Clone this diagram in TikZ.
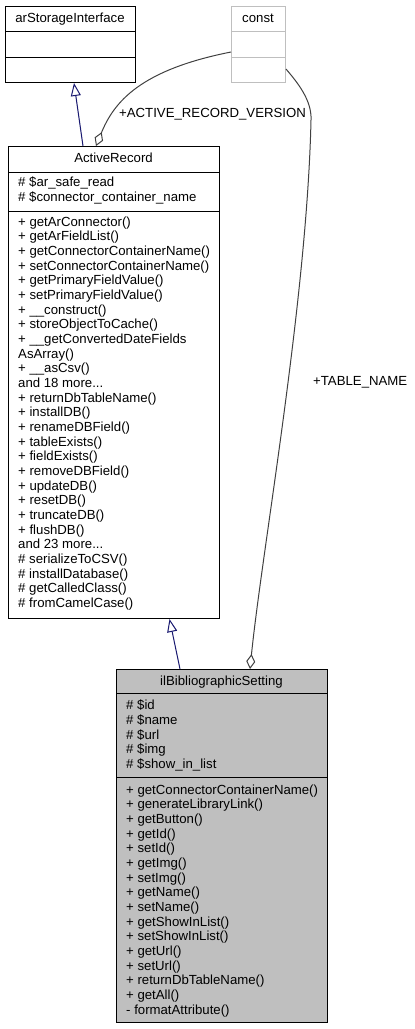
\documentclass[tikz,border=0pt]{standalone}
\usepackage{fontspec}
\setmainfont{Liberation Sans}
\usetikzlibrary{arrows.meta,calc}
\definecolor{edgegray}{HTML}{404040}
\definecolor{navyedge}{HTML}{191970}
\definecolor{constgray}{HTML}{BFBFBF}
\definecolor{fillgray}{HTML}{BFBFBF}
\newcommand\mydots{...}
\begin{document}
\begin{tikzpicture}[x=1pt,y=-1pt,
  font=\fontsize{13.2}{14.67}\selectfont,
  classbox/.style={draw=black, line width=1pt, inner sep=0pt, anchor=north west},
  constbox/.style={draw=constgray, line width=1pt, inner sep=0pt, anchor=north west},
  divider/.style={draw=black, line width=1pt},
  constdivider/.style={draw=constgray, line width=1pt},
  txt/.style={inner sep=0pt, anchor=base west},
  ttl/.style={inner sep=0pt, anchor=base},
  lbl/.style={inner sep=0pt, anchor=base west},
  inherit/.style={draw=navyedge, line width=1pt, -{Triangle[open,length=13pt,width=10pt]}},
  comp/.style={draw=edgegray, line width=1pt, {Diamond[open,length=15pt,width=9pt]}-}
]
\useasboundingbox (0,0) rectangle (415,1029);

% arStorageInterface
\node[classbox, minimum width=130pt, minimum height=76pt] (asi) at (5,6) {};
\draw[divider] ($(asi.north west)+(0,25)$) -- ($(asi.north east)+(0,25)$);
\draw[divider] ($(asi.north west)+(0,51)$) -- ($(asi.north east)+(0,51)$);
\node[ttl] (asiT) at (70,22) {arStorageInterface};

% const
\node[constbox, minimum width=54pt, minimum height=76pt] (const) at (231,6) {};
\draw[constdivider] ($(const.north west)+(0,25)$) -- ($(const.north east)+(0,25)$);
\draw[constdivider] ($(const.north west)+(0,51)$) -- ($(const.north east)+(0,51)$);
\node[ttl] (constT) at (258,22) {const};

% ActiveRecord
\node[classbox, minimum width=211pt, minimum height=472pt] (ar) at (8,146) {};
\draw[divider] ($(ar.north west)+(0,26)$) -- ($(ar.north east)+(0,26)$);
\draw[divider] ($(ar.north west)+(0,65)$) -- ($(ar.north east)+(0,65)$);
\node[ttl] (arT) at (113.5,162.5) {ActiveRecord};
\foreach \t [count=\i from 0] in {{\# \$ar\_safe\_read},{\# \$connector\_container\_name}}
  \node[txt] (ara\i) at (18,186.7+\i*14.67) {\t};
\foreach \t [count=\i from 0] in {
  {+ getArConnector()},{+ getArFieldList()},{+ getConnectorContainerName()},
  {+ setConnectorContainerName()},{+ getPrimaryFieldValue()},{+ setPrimaryFieldValue()},
  {+ \_\_construct()},{+ storeObjectToCache()},{+ \_\_getConvertedDateFields},
  {AsArray()},{+ \_\_asCsv()},{and 18 more\mydots},{+ returnDbTableName()},
  {+ installDB()},{+ renameDBField()},{+ tableExists()},{+ fieldExists()},
  {+ removeDBField()},{+ updateDB()},{+ resetDB()},{+ truncateDB()},{+ flushDB()},
  {and 23 more\mydots},{\# serializeToCSV()},{\# installDatabase()},
  {\# getCalledClass()},{\# fromCamelCase()}}
  \node[txt] (arm\i) at (18,226+\i*14.67) {\t};

% ilBibliographicSetting
\node[classbox, fill=fillgray, minimum width=211pt, minimum height=353pt] (ilb) at (116,669) {};
\draw[divider] ($(ilb.north west)+(0,24)$) -- ($(ilb.north east)+(0,24)$);
\draw[divider] ($(ilb.north west)+(0,108)$) -- ($(ilb.north east)+(0,108)$);
\node[ttl] (ilbT) at (221.5,685) {ilBibliographicSetting};
\foreach \t [count=\i from 0] in {{\# \$id},{\# \$name},{\# \$url},{\# \$img},{\# \$show\_in\_list}}
  \node[txt] (ilba\i) at (126,709.7+\i*14.67) {\t};
\foreach \t [count=\i from 0] in {
  {+ getConnectorContainerName()},{+ generateLibraryLink()},{+ getButton()},
  {+ getId()},{+ setId()},{+ getImg()},{+ setImg()},{+ getName()},{+ setName()},
  {+ getShowInList()},{+ setShowInList()},{+ getUrl()},{+ setUrl()},
  {+ returnDbTableName()},{+ getAll()},{- formatAttribute()}}
  \node[txt] (ilbm\i) at (126,794+\i*14.67) {\t};

% inheritance
\draw[inherit] ($(ar.north west)+(75,0)$) -- ($(asi.south west)+(69,0)$);
\draw[inherit] ($(ilb.north west)+(64,0)$) -- ($(ar.south west)+(161.5,0)$);

% composition
\draw[comp] ($(ar.north west)+(88,0)$) .. controls (114,102) and (140,70) .. ($(const.north west)+(0,46)$);
\node[lbl] (lbl1) at (119,117) {+ACTIVE\_RECORD\_VERSION};
\draw[comp] ($(ilb.north west)+(134,0)$) .. controls (262,550) and (307,300) .. (311,120)
  .. controls (312,100) and (297,82) .. ($(const.north east)+(0,63)$);
\node[lbl] (lbl2) at (313,385.5) {+TABLE\_NAME};
\end{tikzpicture}
\end{document}
